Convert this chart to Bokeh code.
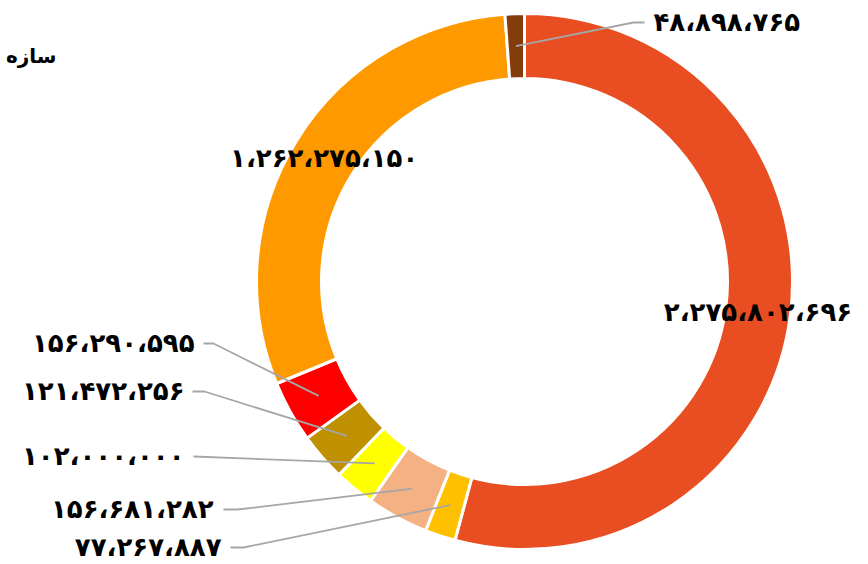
import math
from bokeh.plotting import figure
from bokeh.models import Range1d, ColumnDataSource
from bokeh.core.properties import value
from bokeh.embed import file_html
from bokeh.resources import INLINE

# ---- data (clockwise from 12 o'clock) ----
values = [2275802696, 77267887, 156681282, 102000000, 121472256, 156290595, 1262275150, 48898765]
colors = ["#E84E22", "#FFC000", "#F4B183", "#FFFF00", "#BF9000", "#FF0000", "#FF9900", "#843C0C"]
title_text = "سازه"

PERSIAN = "۰۱۲۳۴۵۶۷۸۹"
def fa(v):
    s = f"{v:,}"
    return "".join(PERSIAN[int(c)] if c.isdigit() else "،" for c in s)

# ---- layout (picture pixel coordinates) ----
W, H = 864, 560
def Y(py):
    return H - py

CX, CY = 524, 281
R_OUT, R_IN = 268, 203
R_MID = (R_OUT + R_IN) / 2
FS = "26px"

# outside labels: index -> (label x, label y, elbow x, line start x, align)
outside = {
    7: (653, 21, 633, 644, "left"),
    5: (194, 342, 213, 203, "right"),
    4: (184, 390, 204, 192, "right"),
    3: (184, 455, 193, 193, "right"),
    2: (213, 508, 237, 223, "right"),
    1: (221, 546, 243, 230, "right"),
}

total = sum(values)
starts, ends, mids = [], [], []
cum = 0.0
for v in values:
    a0 = cum / total
    cum += v
    a1 = cum / total
    starts.append(math.pi / 2 - 2 * math.pi * a1)
    ends.append(math.pi / 2 - 2 * math.pi * a0)
    mids.append((a0 + a1) / 2)

p = figure(width=W, height=H, output_backend="svg", toolbar_location=None,
           x_range=Range1d(0, W), y_range=Range1d(0, H),
           min_border=0)
p.axis.visible = False
p.grid.visible = False
p.outline_line_color = None
p.background_fill_color = "white"

src = ColumnDataSource(dict(start=starts, end=ends, color=colors))
p.annular_wedge(x=CX, y=Y(CY), inner_radius=R_IN, outer_radius=R_OUT,
                start_angle="start", end_angle="end", fill_color="color",
                line_color="white", line_width=3, source=src)

# inside labels
in_x, in_y, in_t = [], [], []
for i in (0, 6):
    th = 2 * math.pi * mids[i]
    in_x.append(CX + R_MID * math.sin(th))
    in_y.append(Y(CY - R_MID * math.cos(th)))
    in_t.append(fa(values[i]))
p.text(x=in_x, y=in_y, text=in_t, text_align="center", text_baseline="middle",
       text_font=value("DejaVu Sans"), text_font_style="bold", text_font_size=FS,
       text_color="black")

# outside labels + leader lines
lx, ly, lt, la = [], [], [], []
xs, ys = [], []
for i, (tx, ty, ex, sx, al) in outside.items():
    th = 2 * math.pi * mids[i]
    axp = CX + R_MID * math.sin(th)
    ayp = CY - R_MID * math.cos(th)
    xs.append([sx, ex, axp])
    ys.append([Y(ty + 1), Y(ty + 1), Y(ayp)])
    lx.append(tx); ly.append(Y(ty)); lt.append(fa(values[i])); la.append(al)
p.multi_line(xs=xs, ys=ys, line_color="#A6A6A6", line_width=1.8)
p.text(x=lx, y=ly, text=lt, text_align=la, text_baseline="middle",
       text_font=value("DejaVu Sans"), text_font_style="bold", text_font_size=FS,
       text_color="black")

# title
p.text(x=[56], y=[Y(55)], text=[title_text], text_align="right", text_baseline="middle",
       text_font=value("DejaVu Sans"), text_font_style="bold", text_font_size="20px",
       text_color="black")

open("out.html", "w").write(file_html(p, INLINE))
